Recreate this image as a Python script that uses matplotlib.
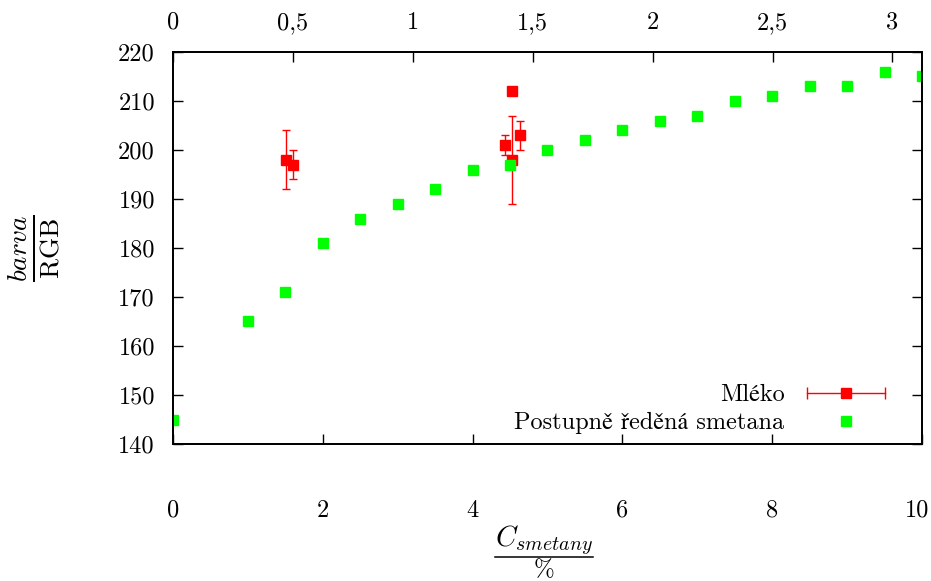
import matplotlib
matplotlib.use('Agg')
import matplotlib.pyplot as plt
from matplotlib.lines import Line2D
from matplotlib.legend_handler import HandlerLine2D
from matplotlib.transforms import ScaledTranslation

plt.rcParams['font.family'] = ['cmr10', 'STIXGeneral']
plt.rcParams['mathtext.fontset'] = 'cm'
plt.rcParams['axes.formatter.use_mathtext'] = True

# postupne redena smetana (spodni osa, % smetany)
smetana_x = [0, 1, 1.5, 2, 2.5, 3, 3.5, 4, 4.5, 5, 5.5, 6, 6.5, 7, 7.5, 8, 8.5, 9, 9.5, 10]
smetana_y = [145, 165, 171, 181, 186, 189, 192, 196, 197, 200, 202, 204, 206, 207, 210, 211, 213, 213, 216, 215]

# mleko (horni osa)
mleko_x = [0.47, 0.50, 1.385, 1.415, 1.415, 1.445]
mleko_y = [198, 197, 201, 212, 198, 203]
mleko_err = [6, 3, 2, 0.6, 9, 3]

bottom_ticks = [0, 2, 4, 6, 8, 10]
top_ticks = [0, 0.5, 1, 1.5, 2, 2.5, 3]
top_labels = ['0', '0,5', '1', '1,5', '2', '2,5', '3']
y_ticks = [140, 150, 160, 170, 180, 190, 200, 210, 220]

fig = plt.figure(figsize=(9.31, 5.81), dpi=100)
ax = fig.add_axes([0.1858, 0.2358, 0.8045, 0.6747])
ax2 = ax.twiny()
ax.set_zorder(2)
ax.patch.set_visible(False)

# Mleko na horni ose
ax2.errorbar(mleko_x, mleko_y, yerr=mleko_err, fmt='s', color='red',
             ms=6.8, ecolor='red', elinewidth=1, capsize=3, capthick=1)
ax2.set_xlim(0, 3.123)
ax2.set_xticks(top_ticks)
ax2.set_xticklabels(top_labels)

# smetana na spodni ose
ax.plot(smetana_x, smetana_y, 's', color='#00ff00', ms=6.5, ls='none')
ax.set_xlim(0, 10)
ax.set_ylim(140, 220)
ax.set_xticks(bottom_ticks)
ax.set_yticks(y_ticks)
ax.set_xticklabels([str(t) for t in bottom_ticks])
ax.set_yticklabels([str(t) for t in y_ticks])

ax.tick_params(axis='x', direction='in', length=7, width=1, pad=40, labelsize=17.5)
ax.tick_params(axis='y', direction='in', length=7, width=1, pad=13, labelsize=17.5,
               right=True)
ax2.tick_params(axis='x', direction='in', length=7, width=1, pad=13, labelsize=17.5)
for a in (ax, ax2):
    for s in a.spines.values():
        s.set_linewidth(1.3)

# posledni popisek "10" trochu doleva, aby se vesel
last = ax.get_xticklabels()[-1]
last.set_transform(last.get_transform() + ScaledTranslation(-5 / 100, 0, fig.dpi_scale_trans))

# popisek osy x jako zlomek poskladany rucne (mathtext \frac je moc roztahany)
ax.text(0.495, -0.260, r'$C_{smetany}$', transform=ax.transAxes,
        ha='center', va='baseline', fontsize=20.5)
ax.add_line(Line2D([0.430, 0.561], [-0.288, -0.288], transform=ax.transAxes,
                   color='black', lw=1.1, clip_on=False))
ax.text(0.495, -0.337, r'$\%$', transform=ax.transAxes,
        ha='center', va='baseline', fontsize=18)

ax.set_ylabel(r'$\frac{barva}{\mathrm{RGB}}$', fontsize=28, labelpad=40)

# legenda
caps = Line2D([], [], color='red', lw=1, marker='|', ms=8, mew=1)
sq = Line2D([], [], color='red', marker='s', ms=6.8, ls='none')
green = Line2D([], [], color='#00ff00', marker='s', ms=6.5, ls='none')
ax.legend([(caps, sq), green], ['Mléko', 'Postupně ředěná smetana'],
          loc='lower right', bbox_to_anchor=(0.973, 0.0),
          markerfirst=False, frameon=False, fontsize=17.5,
          handlelength=3.8, handletextpad=0.62, labelspacing=0.25,
          borderaxespad=0,
          handler_map={caps: HandlerLine2D(numpoints=2)})

fig.savefig('out.png', dpi=100)
